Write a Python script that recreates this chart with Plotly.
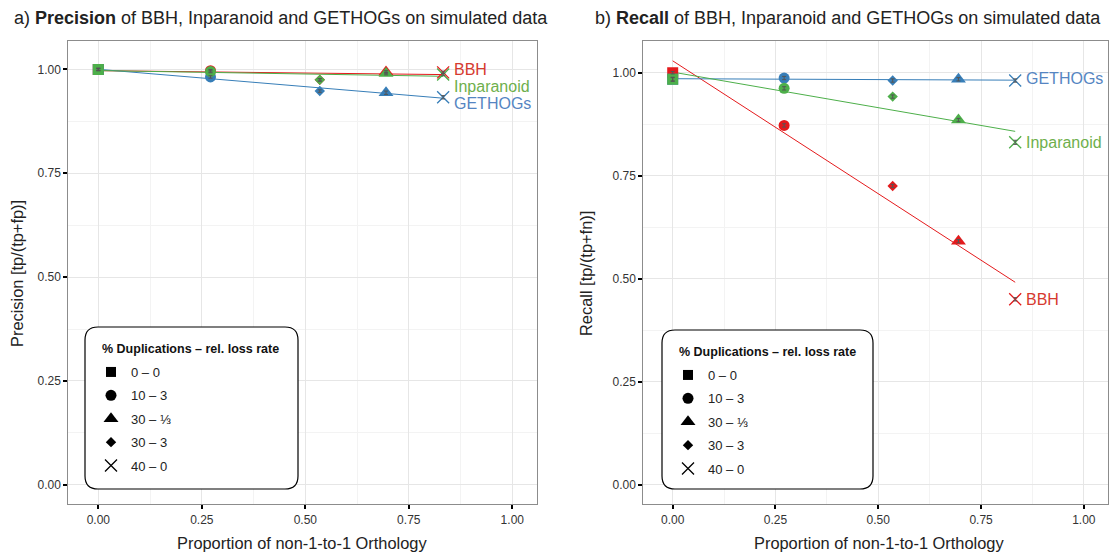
import numpy as np
import plotly.graph_objects as go

# ---------------- data (ordered by scenario) ----------------
scenarios = ["0 \u2013 0", "10 \u2013 3", "30 \u2013 \u2153", "30 \u2013 3", "40 \u2013 0"]
prop_x = [0.0, 0.271, 0.695, 0.535, 0.833]          # proportion of non-1-to-1 orthology
methods = ["BBH", "GETHOGs", "Inparanoid"]

precision_bbh = [1.000, 0.997, 0.994, 0.975, 0.993]
precision_inparanoid = [1.000, 0.995, 0.990, 0.975, 0.988]
precision_gethogs = [1.000, 0.982, 0.944, 0.948, 0.933]

recall_bbh = [1.000, 0.872, 0.591, 0.725, 0.450]
recall_inparanoid = [0.984, 0.962, 0.885, 0.942, 0.831]
recall_gethogs = [0.984, 0.987, 0.984, 0.981, 0.981]

# small standard-error bars drawn on top of the points
precision_err_bbh = [0.002, 0.003, 0.003, 0.003, 0.003]
precision_err_inparanoid = [0.003, 0.003, 0.003, 0.003, 0.003]
precision_err_gethogs = [0.003, 0.003, 0.004, 0.003, 0.004]
recall_err_bbh = [0.003, 0.004, 0.004, 0.004, 0.004]
recall_err_inparanoid = [0.005, 0.004, 0.004, 0.004, 0.005]
recall_err_gethogs = [0.004, 0.004, 0.004, 0.004, 0.004]

# ---------------- style ----------------
W, H = 1115, 557
FONT = "Liberation Sans, Arial, Helvetica, sans-serif"
colors = {"BBH": "#E41A1C", "GETHOGs": "#377EB8", "Inparanoid": "#4DAF4A"}
label_colors = {"BBH": "#D63A2F", "GETHOGs": "#5585C2", "Inparanoid": "#6EAF4C"}
symbols = ["square", "circle", "triangle-up", "diamond", "x-thin-open"]
sizes = [11, 11, 13, 8, 12]
line_w = [0, 0, 0, 0, 1.3]

panels = [
    dict(x="x", y="y",
         vals={"BBH": precision_bbh, "GETHOGs": precision_gethogs, "Inparanoid": precision_inparanoid},
         errs={"BBH": precision_err_bbh, "GETHOGs": precision_err_gethogs, "Inparanoid": precision_err_inparanoid},
         label_shift={"BBH": 3, "Inparanoid": -12, "GETHOGs": -6}),
    dict(x="x2", y="y2",
         vals={"BBH": recall_bbh, "GETHOGs": recall_gethogs, "Inparanoid": recall_inparanoid},
         errs={"BBH": recall_err_bbh, "GETHOGs": recall_err_gethogs, "Inparanoid": recall_err_inparanoid},
         label_shift={"BBH": 0, "Inparanoid": 0, "GETHOGs": 2}),
]

fig = go.Figure()
xs = np.array(prop_x)
last = int(np.argmax(xs))

for p in panels:
    # linear fits (geom_smooth(method = "lm"))
    for m in methods:
        ys = np.array(p["vals"][m])
        slope, icpt = np.polyfit(xs, ys, 1)
        xl = np.array([xs.min(), xs.max()])
        fig.add_trace(go.Scatter(x=xl, y=icpt + slope * xl, mode="lines",
                                 line=dict(color=colors[m], width=1),
                                 xaxis=p["x"], yaxis=p["y"], showlegend=False,
                                 hoverinfo="skip"))
    # points
    for m in methods:
        fig.add_trace(go.Scatter(x=prop_x, y=p["vals"][m], mode="markers",
                                 marker=dict(symbol=symbols, size=sizes, color=colors[m], opacity=1,
                                             line=dict(color=colors[m], width=line_w)),
                                 xaxis=p["x"], yaxis=p["y"], showlegend=False, name=m))
    # error bars on top
    for m in methods:
        fig.add_trace(go.Scatter(x=prop_x, y=p["vals"][m], mode="markers",
                                 marker=dict(size=1, opacity=0),
                                 error_y=dict(type="data", array=p["errs"][m], color="#555555",
                                              thickness=1, width=2),
                                 xaxis=p["x"], yaxis=p["y"], showlegend=False,
                                 hoverinfo="skip"))
    # end labels
    for m in methods:
        fig.add_annotation(x=prop_x[last], y=p["vals"][m][last], xref=p["x"], yref=p["y"],
                           text=m, showarrow=False, xanchor="left", yanchor="middle",
                           xshift=9, yshift=p["label_shift"][m],
                           font=dict(family=FONT, size=16, color=label_colors[m]))

# legend entries (black shapes) for both panels
for legname, xa, ya in [("legend", "x", "y"), ("legend2", "x2", "y2")]:
    for i, (s, lab) in enumerate(zip(symbols, scenarios)):
        fig.add_trace(go.Scatter(x=[None], y=[None], mode="markers", name=lab,
                                 marker=dict(symbol=s, size=[10, 11, 13, 8, 12][i], color="black",
                                             line=dict(color="black", width=line_w[i])),
                                 legend=legname, legendgroup=f"{legname}{i}",
                                 xaxis=xa, yaxis=ya, showlegend=True))


def px(xp):
    return xp / W


def py(yp):
    return 1 - yp / H


def rounded_box(x0, y0, x1, y1, r):
    # pixel coordinates -> paper path with rounded corners
    rx, ry = r / W, r / H
    X0, X1 = px(x0), px(x1)
    Ytop, Ybot = py(y0), py(y1)
    return (f"M {X0+rx},{Ytop} L {X1-rx},{Ytop} Q {X1},{Ytop} {X1},{Ytop-ry} "
            f"L {X1},{Ybot+ry} Q {X1},{Ybot} {X1-rx},{Ybot} "
            f"L {X0+rx},{Ybot} Q {X0},{Ybot} {X0},{Ybot+ry} "
            f"L {X0},{Ytop-ry} Q {X0},{Ytop} {X0+rx},{Ytop} Z")


shapes = []
for (bx0, by0, bx1, by1) in [(85, 327, 298, 489), (662, 330, 873, 489)]:
    shapes.append(dict(type="path", xref="paper", yref="paper",
                       path=rounded_box(bx0, by0, bx1, by1, 13),
                       line=dict(color="black", width=1.2), fillcolor="white", layer="above"))

axis_common = dict(
    showgrid=True, gridcolor="#E6E6E6", gridwidth=1,
    minor=dict(showgrid=True, gridcolor="#F3F3F3", gridwidth=1, dtick=0.125),
    zeroline=False, showline=True, linecolor="#8C8C8C", linewidth=1, mirror=True,
    ticks="outside", ticklen=4, tickwidth=1.5, tickcolor="black",
    tick0=0, dtick=0.25, tickformat=".2f",
    tickfont=dict(family=FONT, size=12, color="#333333"),
)

ydom = [1 - 504.3 / H, 1 - 40.8 / H]
fig.update_layout(
    width=W, height=H,
    margin=dict(l=0, r=0, t=0, b=0),
    paper_bgcolor="white", plot_bgcolor="white",
    font=dict(family=FONT, color="#222222"),
    xaxis=dict(domain=[68.3 / W, 537 / W], range=[-0.0725, 1.0597], anchor="y", **axis_common),
    yaxis=dict(domain=ydom, range=[-0.047, 1.069], anchor="x", **axis_common),
    xaxis2=dict(domain=[643.3 / W, 1107.7 / W], range=[-0.0715, 1.058], anchor="y2", **axis_common),
    yaxis2=dict(domain=ydom, range=[-0.0476, 1.0774], anchor="x2", **axis_common),
    legend=dict(x=px(91), y=py(357), xanchor="left", yanchor="top", bgcolor="rgba(0,0,0,0)",
                traceorder="grouped", tracegroupgap=3.5,
                font=dict(family=FONT, size=13, color="#222222")),
    legend2=dict(x=px(668), y=py(360), xanchor="left", yanchor="top", bgcolor="rgba(0,0,0,0)",
                 traceorder="grouped", tracegroupgap=3.5,
                 font=dict(family=FONT, size=13, color="#222222")),
    shapes=shapes,
    showlegend=True,
)

# titles and axis labels
texts = [
    ("a) <b>Precision</b> of BBH, Inparanoid and GETHOGs on simulated data", 281, 18, 18, 0),
    ("b) <b>Recall</b> of BBH, Inparanoid and GETHOGs on simulated data", 848, 18, 18, 0),
    ("Proportion of non-1-to-1 Orthology", 302, 543, 16.4, 0),
    ("Proportion of non-1-to-1 Orthology", 879, 543, 16.4, 0),
    ("Precision [tp/(tp+fp)]", 17, 274, 16.4, -90),
    ("Recall [tp/(tp+fn)]", 586, 274, 16.4, -90),
]
for t, x, y, s, ang in texts:
    fig.add_annotation(text=t, x=px(x), y=py(y), xref="paper", yref="paper", showarrow=False,
                       xanchor="center", yanchor="middle", textangle=ang,
                       font=dict(family=FONT, size=s, color="#222222"))

# legend titles
for x, y in [(100, 349), (677, 352)]:
    fig.add_annotation(text="<b>% Duplications \u2013 rel. loss rate</b>", x=px(x), y=py(y),
                       xref="paper", yref="paper", showarrow=False, xanchor="left",
                       yanchor="middle", font=dict(family=FONT, size=12.5, color="#111111"))

fig.write_html("out.html")
